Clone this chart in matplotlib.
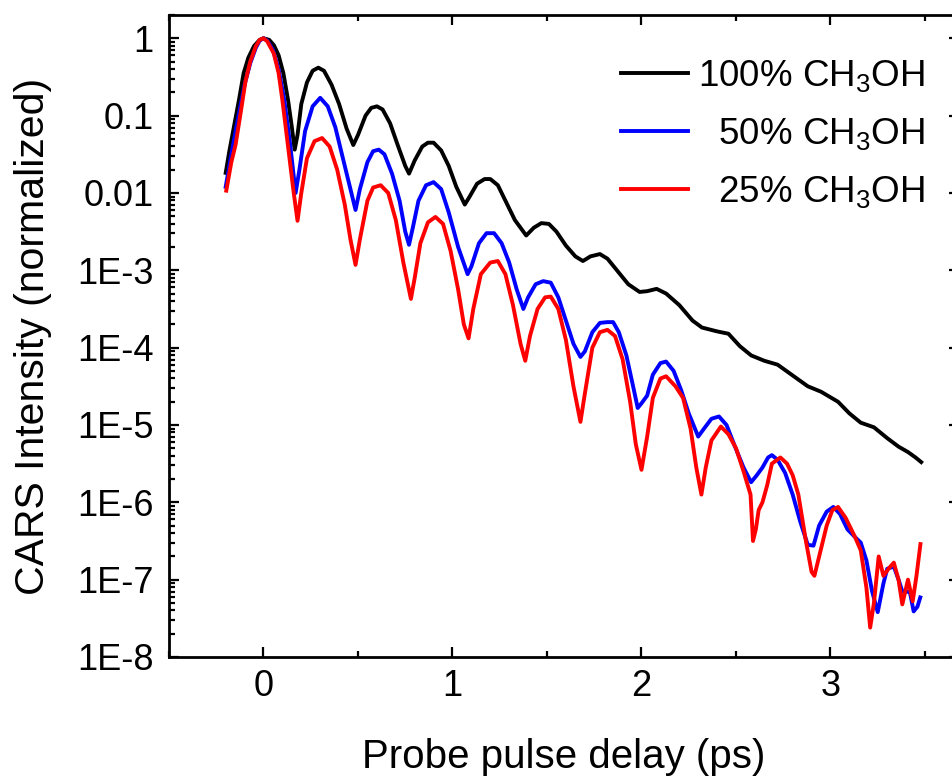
import numpy as np
import matplotlib
matplotlib.use("Agg")
import matplotlib.pyplot as plt
from matplotlib.ticker import FixedLocator, MultipleLocator, LogLocator, NullFormatter

plt.rcParams['font.family'] = ['Liberation Sans', 'DejaVu Sans']
plt.rcParams['mathtext.default'] = 'regular'

# ---- data: delay (ps) and log10(normalized CARS intensity) ----
t_100 = [-0.20, -0.18, -0.16, -0.13, -0.105, -0.08, -0.05, -0.02, 0.00, 0.03, 0.055, 0.08,
         0.105, 0.13, 0.15, 0.165, 0.18, 0.20, 0.23, 0.26, 0.29, 0.32, 0.36, 0.40, 0.44,
         0.475, 0.50, 0.54, 0.57, 0.60, 0.63, 0.67, 0.71, 0.75, 0.77, 0.80, 0.84, 0.87,
         0.90, 0.94, 0.98, 1.02, 1.065, 1.09, 1.13, 1.17, 1.20, 1.24, 1.28, 1.33, 1.39,
         1.43, 1.47, 1.51, 1.55, 1.60, 1.65, 1.69, 1.73, 1.78, 1.82, 1.87, 1.93, 1.99,
         2.03, 2.08, 2.13, 2.20, 2.27, 2.32, 2.40, 2.46, 2.52, 2.58, 2.65, 2.72, 2.80,
         2.88, 2.95, 3.04, 3.10, 3.16, 3.23, 3.30, 3.36, 3.41, 3.45, 3.48]
lg_100 = [-1.74, -1.45, -1.19, -0.80, -0.45, -0.25, -0.10, -0.02, 0.00, -0.02, -0.09, -0.22,
          -0.45, -0.80, -1.15, -1.44, -1.25, -0.85, -0.57, -0.42, -0.38, -0.42, -0.60, -0.85, -1.17,
          -1.38, -1.25, -1.00, -0.90, -0.88, -0.92, -1.10, -1.38, -1.65, -1.75, -1.58, -1.40, -1.35,
          -1.35, -1.45, -1.65, -1.92, -2.15, -2.05, -1.88, -1.82, -1.82, -1.90, -2.10, -2.35, -2.55,
          -2.45, -2.39, -2.40, -2.50, -2.68, -2.82, -2.88, -2.82, -2.79, -2.85, -3.00, -3.18, -3.28,
          -3.27, -3.24, -3.30, -3.45, -3.65, -3.74, -3.79, -3.82, -3.98, -4.10, -4.17, -4.22, -4.36,
          -4.50, -4.57, -4.70, -4.85, -4.97, -5.03, -5.17, -5.28, -5.35, -5.42, -5.48]

t_50 = [-0.20, -0.17, -0.14, -0.10, -0.07, -0.04, -0.02, 0.00, 0.02, 0.05, 0.08, 0.11, 0.14,
        0.17, 0.19, 0.22, 0.26, 0.30, 0.34, 0.38, 0.42, 0.46, 0.487, 0.51, 0.55, 0.58, 0.61,
        0.64, 0.68, 0.72, 0.75, 0.77, 0.79, 0.82, 0.86, 0.90, 0.94, 0.98, 1.03, 1.08, 1.10,
        1.14, 1.18, 1.22, 1.26, 1.30, 1.34, 1.375, 1.40, 1.44, 1.48, 1.52, 1.56, 1.60, 1.64,
        1.677, 1.70, 1.74, 1.78, 1.82, 1.85, 1.88, 1.92, 1.96, 1.98, 2.00, 2.03, 2.06, 2.10,
        2.13, 2.17, 2.21, 2.25, 2.30, 2.33, 2.37, 2.41, 2.45, 2.49, 2.54, 2.58, 2.61, 2.64,
        2.67, 2.69, 2.72, 2.76, 2.80, 2.84, 2.88, 2.91, 2.94, 2.98, 3.015, 3.05, 3.09, 3.13,
        3.16, 3.19, 3.22, 3.25, 3.28, 3.30, 3.335, 3.36, 3.38, 3.42, 3.44, 3.46, 3.475]
lg_50 = [-1.92, -1.50, -1.10, -0.60, -0.32, -0.12, -0.03, 0.00, -0.03, -0.15, -0.40, -0.80, -1.35,
         -2.00, -1.70, -1.20, -0.88, -0.77, -0.88, -1.15, -1.55, -1.95, -2.22, -1.95, -1.60, -1.46, -1.44,
         -1.50, -1.75, -2.10, -2.50, -2.67, -2.45, -2.10, -1.90, -1.86, -1.95, -2.25, -2.70, -3.05, -2.95,
         -2.65, -2.52, -2.52, -2.65, -2.90, -3.25, -3.50, -3.35, -3.18, -3.14, -3.16, -3.35, -3.65, -3.95,
         -4.12, -4.05, -3.80, -3.68, -3.67, -3.67, -3.80, -4.10, -4.55, -4.78, -4.72, -4.62, -4.35, -4.20,
         -4.18, -4.30, -4.55, -4.85, -5.15, -5.05, -4.92, -4.89, -5.00, -5.25, -5.55, -5.74, -5.65, -5.55,
         -5.42, -5.39, -5.45, -5.62, -5.90, -6.25, -6.55, -6.56, -6.30, -6.12, -6.06, -6.15, -6.35, -6.45,
         -6.52, -6.75, -7.15, -7.42, -7.05, -6.86, -6.83, -7.00, -7.15, -7.16, -7.41, -7.35, -7.23]

t_25 = [-0.197, -0.17, -0.148, -0.12, -0.095, -0.07, -0.04, -0.02, 0.00, 0.02, 0.055, 0.08, 0.10,
        0.13, 0.16, 0.18, 0.20, 0.23, 0.27, 0.31, 0.35, 0.39, 0.43, 0.46, 0.487, 0.51, 0.55, 0.58,
        0.62, 0.66, 0.70, 0.74, 0.78, 0.80, 0.83, 0.87, 0.91, 0.95, 0.99, 1.03, 1.06, 1.085, 1.11,
        1.15, 1.20, 1.24, 1.28, 1.32, 1.36, 1.385, 1.41, 1.45, 1.49, 1.52, 1.56, 1.60, 1.64, 1.677,
        1.70, 1.74, 1.78, 1.82, 1.86, 1.90, 1.94, 1.97, 2.00, 2.03, 2.06, 2.10, 2.13, 2.18, 2.22,
        2.26, 2.29, 2.317, 2.34, 2.37, 2.42, 2.46, 2.50, 2.54, 2.577, 2.59, 2.605, 2.62, 2.64, 2.665,
        2.69, 2.735, 2.77, 2.80, 2.83, 2.87, 2.90, 2.915, 2.94, 2.98, 3.01, 3.04, 3.08, 3.13, 3.16,
        3.19, 3.21, 3.23, 3.255, 3.28, 3.31, 3.335, 3.36, 3.38, 3.41, 3.435, 3.455, 3.476]
lg_25 = [-1.97, -1.60, -1.38, -0.95, -0.55, -0.30, -0.10, -0.02, 0.00, -0.04, -0.20, -0.45, -0.80,
         -1.40, -2.00, -2.36, -2.00, -1.55, -1.33, -1.29, -1.40, -1.70, -2.15, -2.60, -2.93, -2.60, -2.10, -1.93,
         -1.90, -2.00, -2.35, -2.90, -3.37, -3.10, -2.65, -2.38, -2.31, -2.40, -2.75, -3.25, -3.70, -3.88, -3.50,
         -3.05, -2.90, -2.88, -3.05, -3.45, -3.95, -4.17, -3.85, -3.50, -3.35, -3.34, -3.50, -3.90, -4.50, -4.96,
         -4.60, -4.00, -3.80, -3.77, -3.85, -4.15, -4.70, -5.25, -5.58, -5.15, -4.65, -4.40, -4.37, -4.50, -4.65,
         -5.05, -5.55, -5.90, -5.55, -5.20, -5.02, -5.12, -5.30, -5.60, -5.90, -6.50, -6.35, -6.10, -6.00, -5.78,
         -5.50, -5.42, -5.50, -5.65, -5.90, -6.50, -6.90, -6.95, -6.70, -6.30, -6.10, -6.06, -6.20, -6.45, -6.62,
         -7.10, -7.62, -7.30, -6.70, -6.95, -6.85, -6.78, -7.00, -7.32, -7.00, -7.28, -6.95, -6.54]

series_labels = ['100% CH$_3$OH', '\u200750% CH$_3$OH', '\u200725% CH$_3$OH']
series_colors = ['black', '#0000ff', '#ff0000']

ytick_values = [1e-8, 1e-7, 1e-6, 1e-5, 1e-4, 1e-3, 1e-2, 1e-1, 1]
ytick_labels = ['1E-8', '1E-7', '1E-6', '1E-5', '1E-4', '1E-3', '0.01', '0.1', '1']
xtick_values = [0, 1, 2, 3]
xtick_labels = ['0', '1', '2', '3']

# ---- figure ----
W, H = 953, 777
fig = plt.figure(figsize=(W / 100, H / 100), dpi=100)
ax = fig.add_axes([169 / W, 1 - 657 / H, (959 - 169) / W, (657 - 15) / H])

for t, lg, lab, col in zip([t_100, t_50, t_25], [lg_100, lg_50, lg_25], series_labels, series_colors):
    ax.plot(t, 10.0 ** np.asarray(lg), color=col, lw=2.8, label=lab, solid_joinstyle='round')

ax.set_yscale('log')
ax.set_xlim(-0.5, 3.68)
ax.set_ylim(1e-8, 2)

ax.yaxis.set_major_locator(FixedLocator(ytick_values))
ax.set_yticklabels(ytick_labels)
ax.yaxis.set_minor_locator(LogLocator(base=10, subs=np.arange(2, 10), numticks=50))
ax.yaxis.set_minor_formatter(NullFormatter())
ax.set_xticks(xtick_values)
ax.set_xticklabels(xtick_labels)
ax.xaxis.set_minor_locator(MultipleLocator(0.5))

for s in ax.spines.values():
    s.set_linewidth(2.0)
ax.tick_params(which='both', direction='in', top=True, right=True, width=1.6)
ax.tick_params(which='major', length=7.5, labelsize=26)
ax.tick_params(which='minor', length=4)
ax.tick_params(axis='x', which='major', pad=9)
ax.tick_params(axis='y', which='major', pad=11)

ax.set_xlabel('Probe pulse delay (ps)', fontsize=29, labelpad=24)
ax.set_ylabel('CARS Intensity (normalized)', fontsize=29.5, labelpad=18)

leg = ax.legend(loc='upper right', bbox_to_anchor=(925 / W, 1 - 58 / H), bbox_transform=fig.transFigure,
                frameon=False, fontsize=26.5, handlelength=1.8, handletextpad=0.28,
                labelspacing=0.6, borderpad=0, borderaxespad=0)

fig.savefig('out.png', dpi=100)
